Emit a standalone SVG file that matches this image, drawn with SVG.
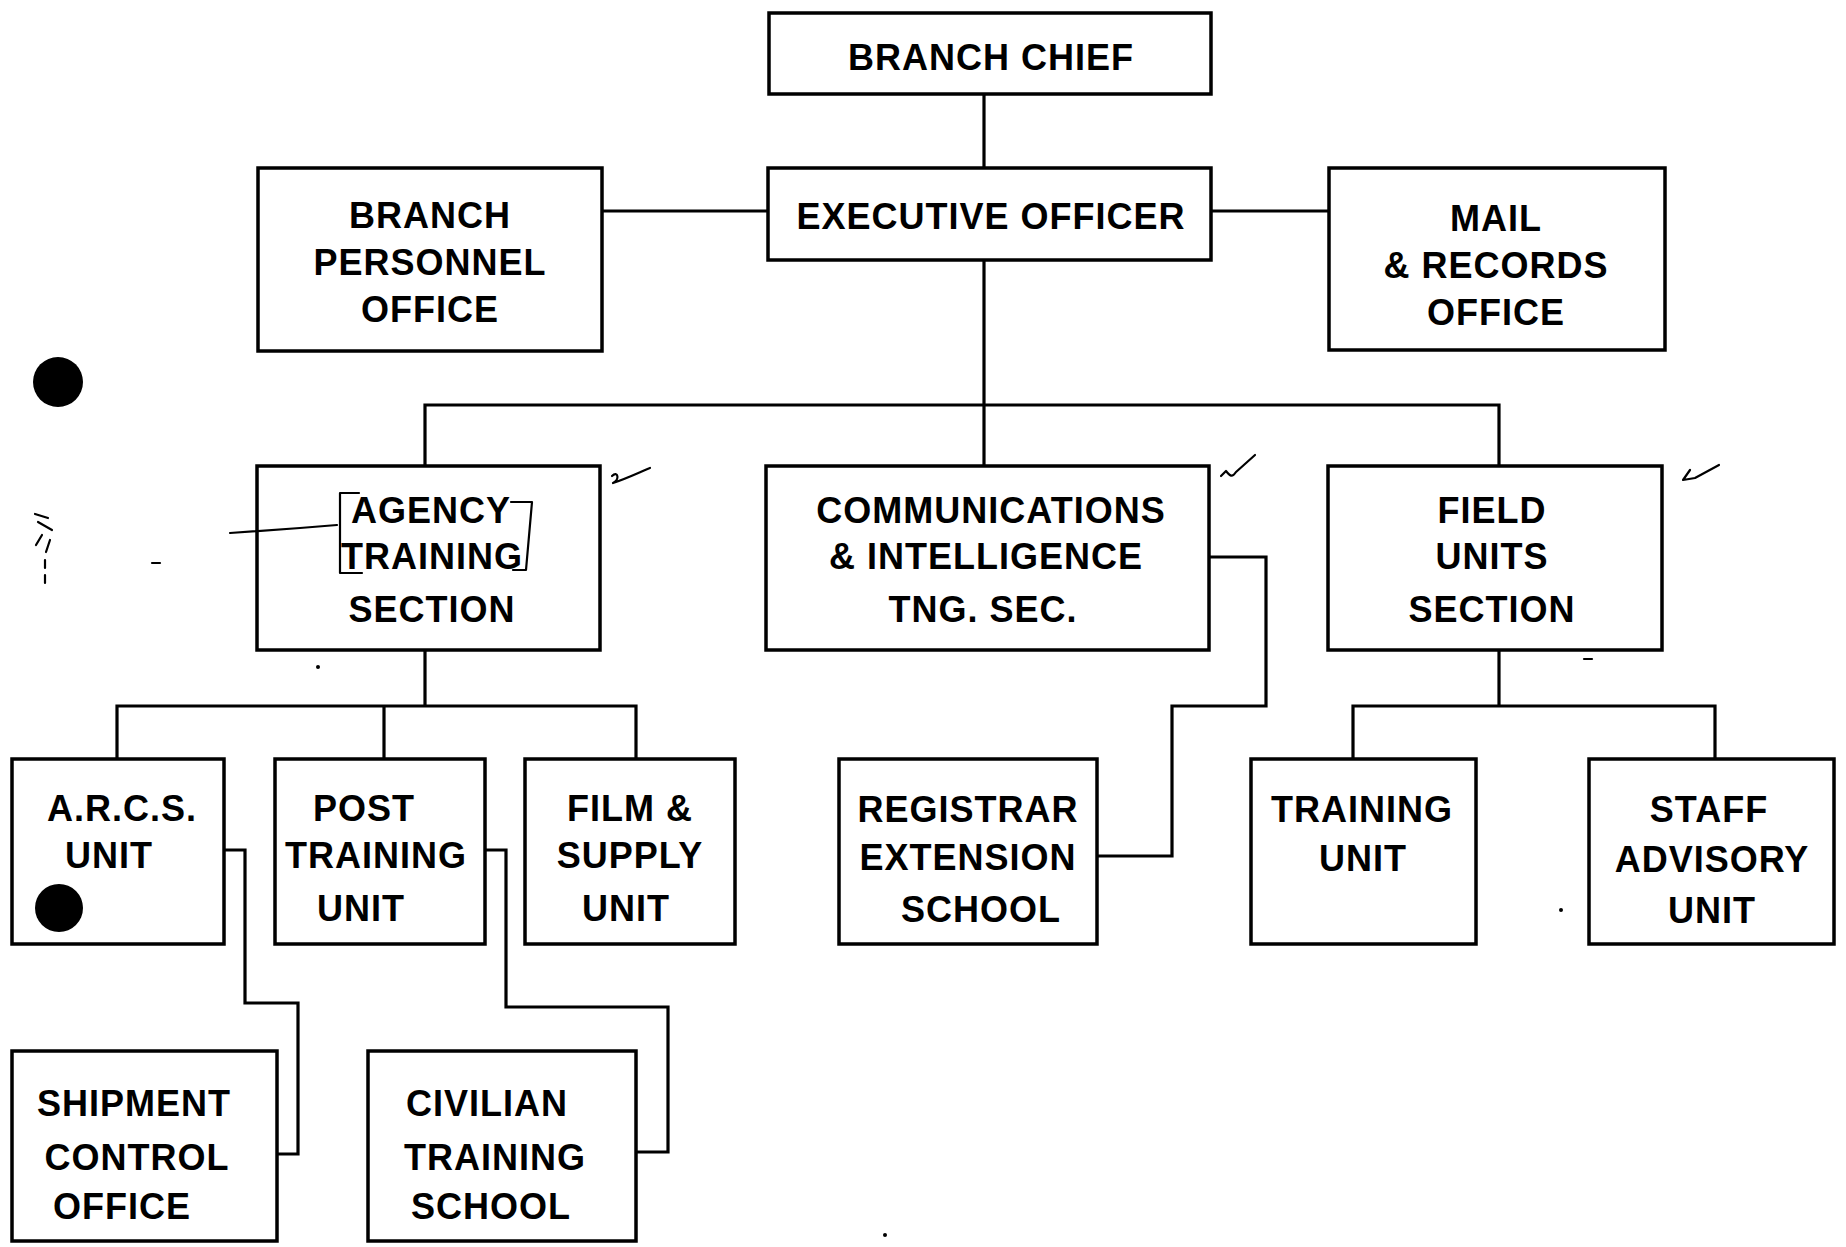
<svg xmlns="http://www.w3.org/2000/svg" width="1846" height="1247" viewBox="0 0 1846 1247">
<style>
.box{fill:#fff;stroke:#000;stroke-width:3.5}
.lbl{font-family:"Liberation Sans",Arial,sans-serif;font-weight:bold;font-size:36px;fill:#000;text-anchor:middle;letter-spacing:1px}
.con{fill:none;stroke:#000;stroke-width:3.2;stroke-linejoin:miter}
.mark{fill:none;stroke:#000;stroke-width:2.2;stroke-linecap:round;stroke-linejoin:round}
</style>
<rect width="1846" height="1247" fill="#fff"/>
<g id="connectors">
<path class="con" d="M984 94V168"/>
<path class="con" d="M602 211H768"/>
<path class="con" d="M1211 211H1329"/>
<path class="con" d="M984 260V465"/>
<path class="con" d="M425 465V405H1499V465"/>
<path class="con" d="M425 650V706"/>
<path class="con" d="M117 759V706H636V759"/>
<path class="con" d="M384 706V759"/>
<path class="con" d="M224 850H245V1003H298V1154H277"/>
<path class="con" d="M485 850H506V1007H668V1152H636"/>
<path class="con" d="M1209 557H1266V706H1172V856H1097"/>
<path class="con" d="M1499 650V706"/>
<path class="con" d="M1353 759V706H1715V759"/>
</g>
<g id="branch-chief"><rect class="box" x="769" y="13" width="442" height="81"/><text class="lbl" x="991" y="70">BRANCH CHIEF</text></g>
<g id="executive-officer"><rect class="box" x="768" y="168" width="443" height="92"/><text class="lbl" x="991" y="229">EXECUTIVE OFFICER</text></g>
<g id="branch-personnel-office"><rect class="box" x="258" y="168" width="344" height="183"/><text class="lbl" x="430" y="228">BRANCH</text><text class="lbl" x="430" y="275">PERSONNEL</text><text class="lbl" x="430" y="322">OFFICE</text></g>
<g id="mail-records-office"><rect class="box" x="1329" y="168" width="336" height="182"/><text class="lbl" x="1496" y="231">MAIL</text><text class="lbl" x="1496" y="278">&amp; RECORDS</text><text class="lbl" x="1496" y="325">OFFICE</text></g>
<g id="agency-training-section"><rect class="box" x="257" y="466" width="343" height="184"/><text class="lbl" x="431" y="523">AGENCY</text><text class="lbl" x="432" y="569">TRAINING</text><text class="lbl" x="432" y="622">SECTION</text></g>
<g id="comm-intel-tng-sec"><rect class="box" x="766" y="466" width="443" height="184"/><text class="lbl" x="991" y="523">COMMUNICATIONS</text><text class="lbl" x="986" y="569">&amp; INTELLIGENCE</text><text class="lbl" x="983" y="622">TNG. SEC.</text></g>
<g id="field-units-section"><rect class="box" x="1328" y="466" width="334" height="184"/><text class="lbl" x="1492" y="523">FIELD</text><text class="lbl" x="1492" y="569">UNITS</text><text class="lbl" x="1492" y="622">SECTION</text></g>
<g id="arcs-unit"><rect class="box" x="12" y="759" width="212" height="185"/><text class="lbl" x="122" y="821">A.R.C.S.</text><text class="lbl" x="109" y="868">UNIT</text></g>
<g id="post-training-unit"><rect class="box" x="275" y="759" width="210" height="185"/><text class="lbl" x="364" y="821">POST</text><text class="lbl" x="376" y="868">TRAINING</text><text class="lbl" x="361" y="921">UNIT</text></g>
<g id="film-supply-unit"><rect class="box" x="525" y="759" width="210" height="185"/><text class="lbl" x="630" y="821">FILM &amp;</text><text class="lbl" x="630" y="868">SUPPLY</text><text class="lbl" x="626" y="921">UNIT</text></g>
<g id="registrar-extension-school"><rect class="box" x="839" y="759" width="258" height="185"/><text class="lbl" x="968" y="822">REGISTRAR</text><text class="lbl" x="968" y="870">EXTENSION</text><text class="lbl" x="981" y="922">SCHOOL</text></g>
<g id="training-unit"><rect class="box" x="1251" y="759" width="225" height="185"/><text class="lbl" x="1362" y="822">TRAINING</text><text class="lbl" x="1363" y="871">UNIT</text></g>
<g id="staff-advisory-unit"><rect class="box" x="1589" y="759" width="245" height="185"/><text class="lbl" x="1709" y="822">STAFF</text><text class="lbl" x="1712" y="872">ADVISORY</text><text class="lbl" x="1712" y="923">UNIT</text></g>
<g id="shipment-control-office"><rect class="box" x="12" y="1051" width="265" height="190"/><text class="lbl" x="134" y="1116">SHIPMENT</text><text class="lbl" x="137" y="1170">CONTROL</text><text class="lbl" x="122" y="1219">OFFICE</text></g>
<g id="civilian-training-school"><rect class="box" x="368" y="1051" width="268" height="190"/><text class="lbl" x="487" y="1116">CIVILIAN</text><text class="lbl" x="495" y="1170">TRAINING</text><text class="lbl" x="491" y="1219">SCHOOL</text></g>
<g id="annotations">
<circle cx="58" cy="382" r="25" fill="#000"/>
<circle cx="59" cy="908" r="24" fill="#000"/>
<path class="mark" d="M230 533L300 528L337 525"/>
<path class="mark" d="M359 493H340V573H362"/>
<path class="mark" d="M511 502H532L526 570H513"/>
<path class="mark" d="M612 476C618 470 620 480 613 483C628 478 640 472 650 468"/>
<path class="mark" d="M1221 476L1226 471C1230 476 1232 478 1236 472L1255 455"/>
<path class="mark" d="M1690 470L1683 480L1695 478L1719 465"/>
<path class="mark" d="M35 514L48 518M38 522L52 530M42 535L36 545M50 540L46 552M45 560V568M45 575V583"/>
<path class="mark" d="M152 563H160"/>
<path class="mark" d="M1584 659H1592"/>
<circle cx="318" cy="667" r="2" fill="#000"/>
<circle cx="1561" cy="910" r="2" fill="#000"/>
<circle cx="885" cy="1235" r="2" fill="#000"/>
</g>
</svg>
